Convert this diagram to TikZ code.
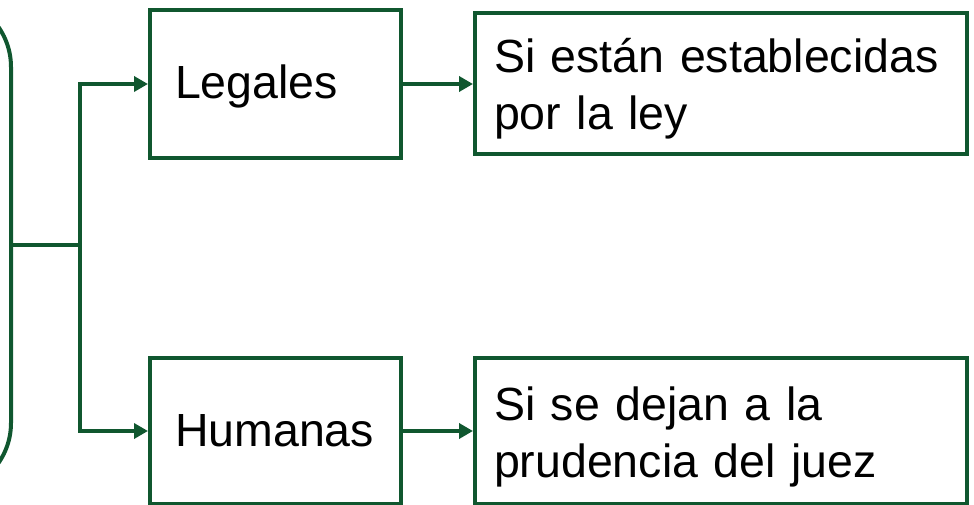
\documentclass[tikz,border=0pt]{standalone}
\usepackage{fontspec}
\setmainfont{Liberation Sans}
\usetikzlibrary{arrows.meta}
\definecolor{dg}{RGB}{16,87,47}
\begin{document}
\begin{tikzpicture}[x=1pt,y=-1pt,
  box/.style={draw=dg,line width=4pt,inner ysep=0pt,align=left,
    font=\fontsize{46.5}{57}\selectfont,text=black},
  leftbox/.style={box,inner xsep=25pt,text width=201pt,minimum width=251pt,text height=40pt,text depth=10pt},
  rightbox/.style={box,inner xsep=19pt,text width=454pt,minimum width=492pt,text height=45pt,text depth=67pt},
  rootbox/.style={draw=dg,line width=4pt,rounded corners=70pt},
  link/.style={draw=dg,line width=4pt},
  arr/.style={link,-{Triangle[length=14pt,width=15pt]}}]
\useasboundingbox (0,0) rectangle (974,505);
\clip (0,0) rectangle (974,505);
\node[rootbox,minimum width=211pt,minimum height=496pt] (root) at (-94.5,245) {};
\node[leftbox,minimum height=148pt] (leg) at (275.5,84) {Legales};
\node[leftbox,minimum height=146pt] (hum) at (275.5,431) {Humanas};
\node[rightbox,minimum height=141pt] (ley) at (721,84) {Si están establecidas\\por la ley};
\node[rightbox,minimum height=146pt] (juez) at (721,431) {Si se dejan a la\\prudencia del juez};
\coordinate (j) at (80,245);
\draw[link] (root.east) -- (j);
\draw[arr] (j) |- (leg.west);
\draw[arr] (j) |- (hum.west);
\draw[arr] (leg.east) -- (ley.west);
\draw[arr] (hum.east) -- (juez.west);
\end{tikzpicture}
\end{document}
